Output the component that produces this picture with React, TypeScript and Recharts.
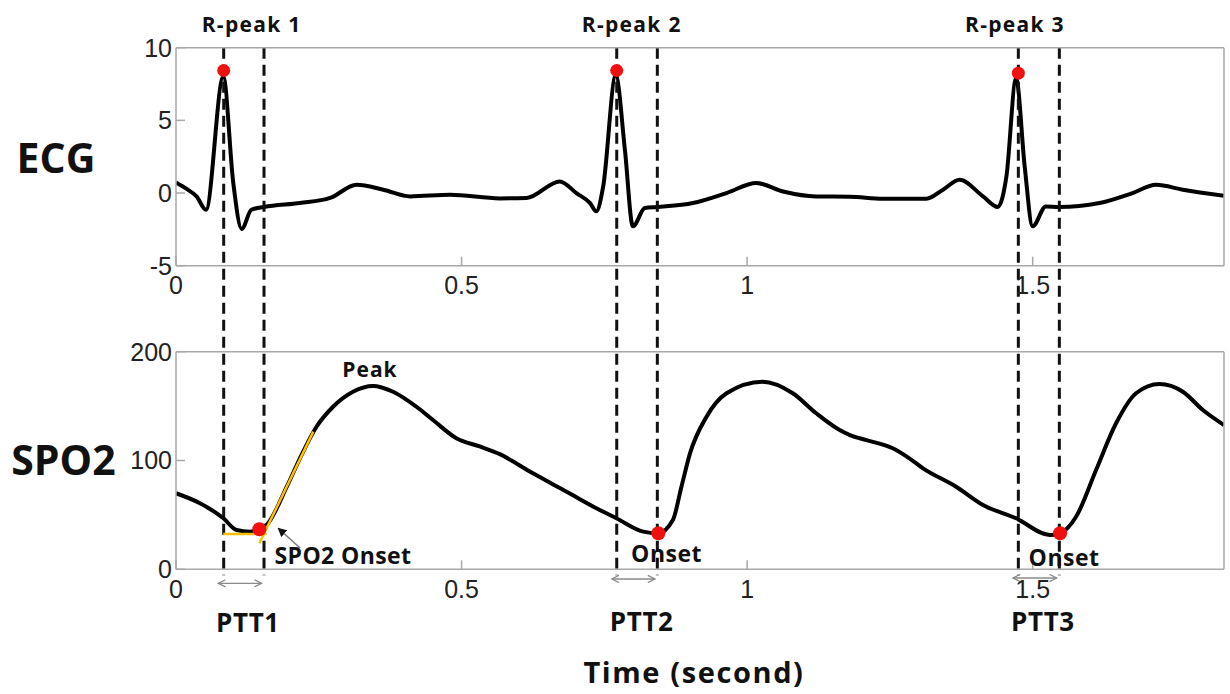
import React from "react";
import {
  LineChart,
  Line,
  XAxis,
  YAxis,
  ReferenceLine,
  ReferenceDot,
} from "recharts";

// ECG trace (time in s, amplitude)
const ecgTime = [
  0, 0.018, 0.036, 0.0525, 0.0828, 0.1003, 0.115, 0.132, 0.154, 0.217, 0.27,
  0.316, 0.363, 0.41, 0.48, 0.567, 0.614, 0.672, 0.701, 0.725, 0.736, 0.748,
  0.77, 0.786, 0.8, 0.821, 0.842, 0.905, 0.964, 1.016, 1.063, 1.121, 1.18,
  1.238, 1.314, 1.343, 1.372, 1.413, 1.439, 1.454, 1.471, 1.486, 1.5, 1.523,
  1.546, 1.617, 1.675, 1.716, 1.763, 1.835,
];
const ecgValue = [
  0.73, 0.3, -0.23, -1.15, 8.0, 0.69, -2.47, -1.15, -0.96, -0.69, -0.34, 0.57,
  0.23, -0.23, -0.12, -0.37, -0.34, 0.8, 0, -0.69, -1.26, 0.46, 8.1, 2.98,
  -2.29, -1.03, -0.96, -0.69, 0, 0.69, 0.11, -0.23, -0.25, -0.39, -0.39, 0.23,
  0.91, -0.23, -0.96, 1.14, 7.9, 1.83, -2.29, -0.92, -0.96, -0.69, 0, 0.57,
  0.23, -0.19,
];

// SPO2 (PPG) trace
const spo2Time = [
  0, 0.042, 0.083, 0.106, 0.13, 0.146, 0.159, 0.194, 0.217, 0.246, 0.275, 0.31,
  0.345, 0.38, 0.421, 0.45, 0.491, 0.533, 0.567, 0.625, 0.684, 0.742, 0.771,
  0.818, 0.844, 0.87, 0.885, 0.9, 0.929, 0.964, 1.027, 1.08, 1.121, 1.162,
  1.18, 1.209, 1.255, 1.284, 1.308, 1.366, 1.413, 1.471, 1.53, 1.548, 1.576,
  1.611, 1.646, 1.681, 1.722, 1.763, 1.798, 1.835,
];
const spo2Value = [
  69.9, 60.7, 46.9, 36.1, 34.6, 36.8, 41, 76, 102, 131, 149.4, 163.2, 168.5,
  163.2, 149.4, 137.2, 120.4, 112.7, 105.8, 88.2, 71.3, 54.5, 46.9, 34.6, 33.1,
  45.3, 75.9, 106.6, 140.3, 161.8, 172.4, 161.8, 143.4, 128, 123.4, 118.8,
  111.2, 102, 92.8, 75.9, 59.1, 46.9, 31.5, 33.1, 48.3, 91.3, 134.2, 161.8,
  170.3, 163.2, 146.4, 132.6,
];

const xTicks = [0, 0.5, 1, 1.5];
const ecgTicks = [-5, 0, 5, 10];
const spo2Ticks = [0, 100, 200];

const rPeakTime = [0.0835, 0.7717, 1.4749];
const rPeakValue = [8.43, 8.43, 8.25];
const onsetTime = [0.1459, 0.8445, 1.548];
const onsetValue = [36.8, 33.1, 33.1];
const rPeakLabels = ["R-peak 1", "R-peak 2", "R-peak 3"];
const pttLabels = ["PTT1", "PTT2", "PTT3"];

const ecgData = ecgTime.map((t, i) => ({ t, v: ecgValue[i] }));
const spo2Data = spo2Time.map((t, i) => ({ t, v: spo2Value[i] }));

const X_MAX = 1.835;
const FRAME = "#a8a8a8";
const TICK_FONT = {
  fontSize: 25,
  fill: "#222",
  fontFamily: "'Liberation Sans', Arial, sans-serif",
};

// vertical dashed markers: R-peak and onset of each beat
const dashTime = [0.0835, 0.1541, 0.7717, 0.8428, 1.4749, 1.5467];

// PTT double-arrow spans
const pttStart = [0.074, 0.7629, 1.4656];
const pttEnd = [0.15, 0.8387, 1.5421];
const pttArrowY = [-12.9, -8.9, -8];

const textShape =
  (label: string, size: number, spacing = 0) =>
  (p: any) =>
    (
      <text
        x={p.cx}
        y={p.cy}
        textAnchor='middle'
        dominantBaseline='central'
        fontFamily="'Open Sans', sans-serif"
        fontWeight={700}
        fontSize={size}
        letterSpacing={spacing}
        fill='#111'
      >
        {label}
      </text>
    );

const frameAxes = (yTicks: number[], domain: [number, number]) => [
  <XAxis
    key='xb'
    xAxisId='b'
    type='number'
    dataKey='t'
    domain={[0, X_MAX]}
    ticks={xTicks}
    height={1}
    tickSize={-9}
    tickMargin={20}
    stroke={FRAME}
    strokeWidth={1.5}
    tick={TICK_FONT}
    interval={0}
    allowDataOverflow
  />,
  <XAxis
    key='xt'
    xAxisId='t'
    orientation='top'
    type='number'
    domain={[0, X_MAX]}
    ticks={xTicks}
    height={1}
    tickSize={-9}
    stroke={FRAME}
    strokeWidth={1.5}
    tick={false}
    interval={0}
  />,
  <YAxis
    key='yl'
    yAxisId='l'
    type='number'
    domain={domain}
    ticks={yTicks}
    width={1}
    tickSize={-9}
    tickMargin={13}
    stroke={FRAME}
    strokeWidth={1.5}
    tick={TICK_FONT}
    interval={0}
    allowDataOverflow
  />,
  <YAxis
    key='yr'
    yAxisId='r'
    orientation='right'
    type='number'
    domain={domain}
    ticks={yTicks}
    width={1}
    tickSize={-9}
    stroke={FRAME}
    strokeWidth={1.5}
    tick={false}
    interval={0}
  />,
];

const layer: React.CSSProperties = { position: "absolute", left: 0, top: 0 };

const App: React.FC = () => {
  return (
    <div
      style={{
        position: "absolute",
        left: 0,
        top: 0,
        width: 1230,
        height: 694,
        background: "#fff",
      }}
    >
      {/* ECG panel */}
      <div style={layer}>
        <LineChart
          width={1230}
          height={694}
          data={ecgData}
          margin={{ top: 46.7, right: 5, bottom: 427.3, left: 175 }}
        >
          {frameAxes(ecgTicks, [-5, 10])}
          <Line
            xAxisId='b'
            yAxisId='l'
            type='monotone'
            dataKey='v'
            stroke='#000'
            strokeWidth={4}
            dot={false}
            isAnimationActive={false}
          />
          {dashTime.map((t) => (
            <ReferenceLine
              key={`d${t}`}
              xAxisId='b'
              yAxisId='l'
              segment={[
                { x: t, y: 10 },
                { x: t, y: -26.3 },
              ]}
              stroke='#111'
              strokeWidth={3}
              strokeDasharray='11 6'
              ifOverflow='visible'
            />
          ))}
          {rPeakTime.map((t, i) => (
            <ReferenceDot
              key={`r${i}`}
              xAxisId='b'
              yAxisId='l'
              x={t}
              y={rPeakValue[i]}
              r={6.5}
              fill='#f01010'
              stroke='none'
              ifOverflow='visible'
            />
          ))}
          {[0.1324, 0.798, 1.469].map((t, i) => (
            <ReferenceDot
              key={`rl${i}`}
              xAxisId='b'
              yAxisId='l'
              x={t}
              y={11.64}
              ifOverflow='visible'
              shape={textShape(rPeakLabels[i], 21, 1.3)}
            />
          ))}
          <ReferenceDot
            xAxisId='b'
            yAxisId='l'
            x={-0.2101}
            y={2.49}
            ifOverflow='visible'
            shape={textShape("ECG", 41)}
          />
        </LineChart>
      </div>

      {/* SPO2 panel */}
      <div style={layer}>
        <LineChart
          width={1230}
          height={694}
          data={spo2Data}
          margin={{ top: 350.7, right: 5, bottom: 123.7, left: 175 }}
        >
          <defs>
            <marker
              id='headBlack'
              viewBox='0 0 10 10'
              refX='9'
              refY='5'
              markerWidth='9'
              markerHeight='9'
              markerUnits='userSpaceOnUse'
              orient='auto'
            >
              <path d='M0,0 L10,5 L0,10 z' fill='#111' />
            </marker>
            <marker
              id='headGray'
              viewBox='0 0 10 10'
              refX='9'
              refY='5'
              markerWidth='9'
              markerHeight='9'
              markerUnits='userSpaceOnUse'
              orient='auto-start-reverse'
            >
              <path
                d='M1,1 L9,5 L1,9'
                fill='none'
                stroke='#8a8a8a'
                strokeWidth={1.4}
              />
            </marker>
          </defs>
          {frameAxes(spo2Ticks, [0, 200])}
          <Line
            xAxisId='b'
            yAxisId='l'
            type='monotone'
            dataKey='v'
            stroke='#000'
            strokeWidth={4}
            dot={false}
            isAnimationActive={false}
          />
          {/* onset tangent construction */}
          <ReferenceLine
            xAxisId='b'
            yAxisId='l'
            segment={[
              { x: 0.0828, y: 32.4 },
              { x: 0.1588, y: 32.4 },
            ]}
            stroke='#ffc000'
            strokeWidth={2.5}
            ifOverflow='visible'
          />
          <ReferenceLine
            xAxisId='b'
            yAxisId='l'
            segment={[
              { x: 0.1459, y: 23.9 },
              { x: 0.2404, y: 126.5 },
            ]}
            stroke='#ffc000'
            strokeWidth={2.5}
            ifOverflow='visible'
          />
          <ReferenceLine
            xAxisId='b'
            yAxisId='l'
            segment={[
              { x: 0.2172, y: 19.6 },
              { x: 0.1791, y: 37.7 },
            ]}
            stroke='#777'
            strokeWidth={1.5}
            markerEnd='url(#headBlack)'
            ifOverflow='visible'
          />
          {onsetTime.map((t, i) => (
            <ReferenceDot
              key={`o${i}`}
              xAxisId='b'
              yAxisId='l'
              x={t}
              y={onsetValue[i]}
              r={7}
              fill='#f01010'
              stroke='none'
              ifOverflow='visible'
            />
          ))}
          {pttStart.map((t, i) => (
            <ReferenceLine
              key={`p${i}`}
              xAxisId='b'
              yAxisId='l'
              segment={[
                { x: t, y: pttArrowY[i] },
                { x: pttEnd[i], y: pttArrowY[i] },
              ]}
              stroke='#8a8a8a'
              strokeWidth={1.4}
              markerStart='url(#headGray)'
              markerEnd='url(#headGray)'
              ifOverflow='visible'
            />
          ))}
          {[0.126, 0.8154, 1.518].map((t, i) => (
            <ReferenceDot
              key={`pl${i}`}
              xAxisId='b'
              yAxisId='l'
              x={t}
              y={[-48.4, -47.2, -47.6][i]}
              ifOverflow='visible'
              shape={textShape(pttLabels[i], 26, 0.6)}
            />
          ))}
          <ReferenceDot
            xAxisId='b'
            yAxisId='l'
            x={0.3397}
            y={184.3}
            ifOverflow='visible'
            shape={textShape("Peak", 21, 1)}
          />
          <ReferenceDot
            xAxisId='b'
            yAxisId='l'
            x={0.2924}
            y={13.1}
            ifOverflow='visible'
            shape={textShape("SPO2 Onset", 23, 0.4)}
          />
          <ReferenceDot
            xAxisId='b'
            yAxisId='l'
            x={0.859}
            y={15}
            ifOverflow='visible'
            shape={textShape("Onset", 23, 0.5)}
          />
          <ReferenceDot
            xAxisId='b'
            yAxisId='l'
            x={1.555}
            y={11.3}
            ifOverflow='visible'
            shape={textShape("Onset", 23, 0.5)}
          />
          <ReferenceDot
            xAxisId='b'
            yAxisId='l'
            x={-0.197}
            y={101.4}
            ifOverflow='visible'
            shape={textShape("SPO2", 41)}
          />
          <ReferenceDot
            xAxisId='b'
            yAxisId='l'
            x={0.907}
            y={-94.1}
            ifOverflow='visible'
            shape={textShape("Time (second)", 29, 1.6)}
          />
        </LineChart>
      </div>
    </div>
  );
};

export default App;
